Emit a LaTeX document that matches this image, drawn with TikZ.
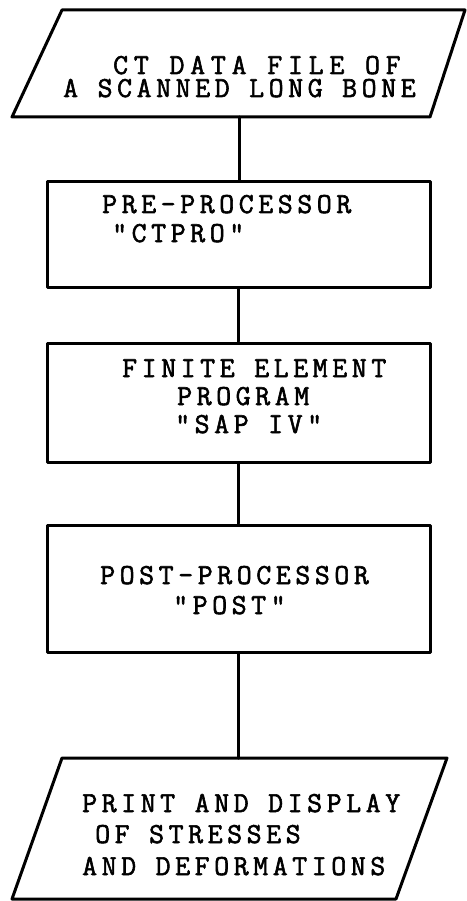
\documentclass[tikz,border=0pt]{standalone}
\usepackage{fontspec}
\setmonofont{Latin Modern Mono}[LetterSpace=15.8, FakeBold=2]
\begin{document}
\begin{tikzpicture}[x=1pt,y=-1pt,
  ln/.style={line width=3pt, line join=round, line cap=round},
  box/.style={draw, ln, rectangle, inner sep=0pt},
  txt/.style={font=\ttfamily\fontsize{29}{29}\selectfont, inner sep=0pt, text height=16pt, text depth=1pt, anchor=base west}]
\useasboundingbox (0,0) rectangle (466,901);
% input parallelogram
\coordinate (inTL) at (62,10);
\coordinate (inTR) at (465,10);
\coordinate (inBR) at (430,117);
\coordinate (inBL) at (12,117);
\draw[ln] (inTL) -- (inTR) -- (inBR) -- (inBL) -- cycle;
\coordinate (inb) at (239,117);
\node[txt, font=\ttfamily\fontsize{29}{29}\selectfont\addfontfeature{LetterSpace=19.9}] (in1) at (113,74) {CT DATA FILE OF};
\node[txt] (in2) at (63,97) {A SCANNED LONG BONE};
% boxes
\node[box, minimum width=383pt, minimum height=105pt] (pre) at (238.5,234.5) {};
\node[txt] (pre1) at (102,213) {PRE-PROCESSOR};
\node[txt] (pre2) at (112,242) {"CTPRO"};
\node[box, minimum width=383pt, minimum height=119pt] (fe) at (238.5,402.5) {};
\node[txt] (fe1) at (122,377) {FINITE ELEMENT};
\node[txt] (fe2) at (177,405) {PROGRAM};
\node[txt] (fe3) at (175,433) {"SAP IV"};
\node[box, minimum width=383pt, minimum height=127pt] (post) at (238.5,588.5) {};
\node[txt] (post1) at (100,584) {POST-PROCESSOR};
\node[txt] (post2) at (173,614) {"POST"};
% output parallelogram
\coordinate (outTL) at (62,758);
\coordinate (outTR) at (447,758);
\coordinate (outBR) at (396,899);
\coordinate (outBL) at (12,899);
\draw[ln] (outTL) -- (outTR) -- (outBR) -- (outBL) -- cycle;
\coordinate (outt) at (238.5,758);
\node[txt] (out1) at (82,812) {PRINT AND DISPLAY};
\node[txt] (out2) at (95,843) {OF STRESSES};
\node[txt] (out3) at (82,875) {AND DEFORMATIONS};
% connectors
\draw[ln] (inb) -- (inb |- pre.north);
\draw[ln] (pre.south) -- (fe.north);
\draw[ln] (fe.south) -- (post.north);
\draw[ln] (post.south) -- (outt);
\end{tikzpicture}
\end{document}
